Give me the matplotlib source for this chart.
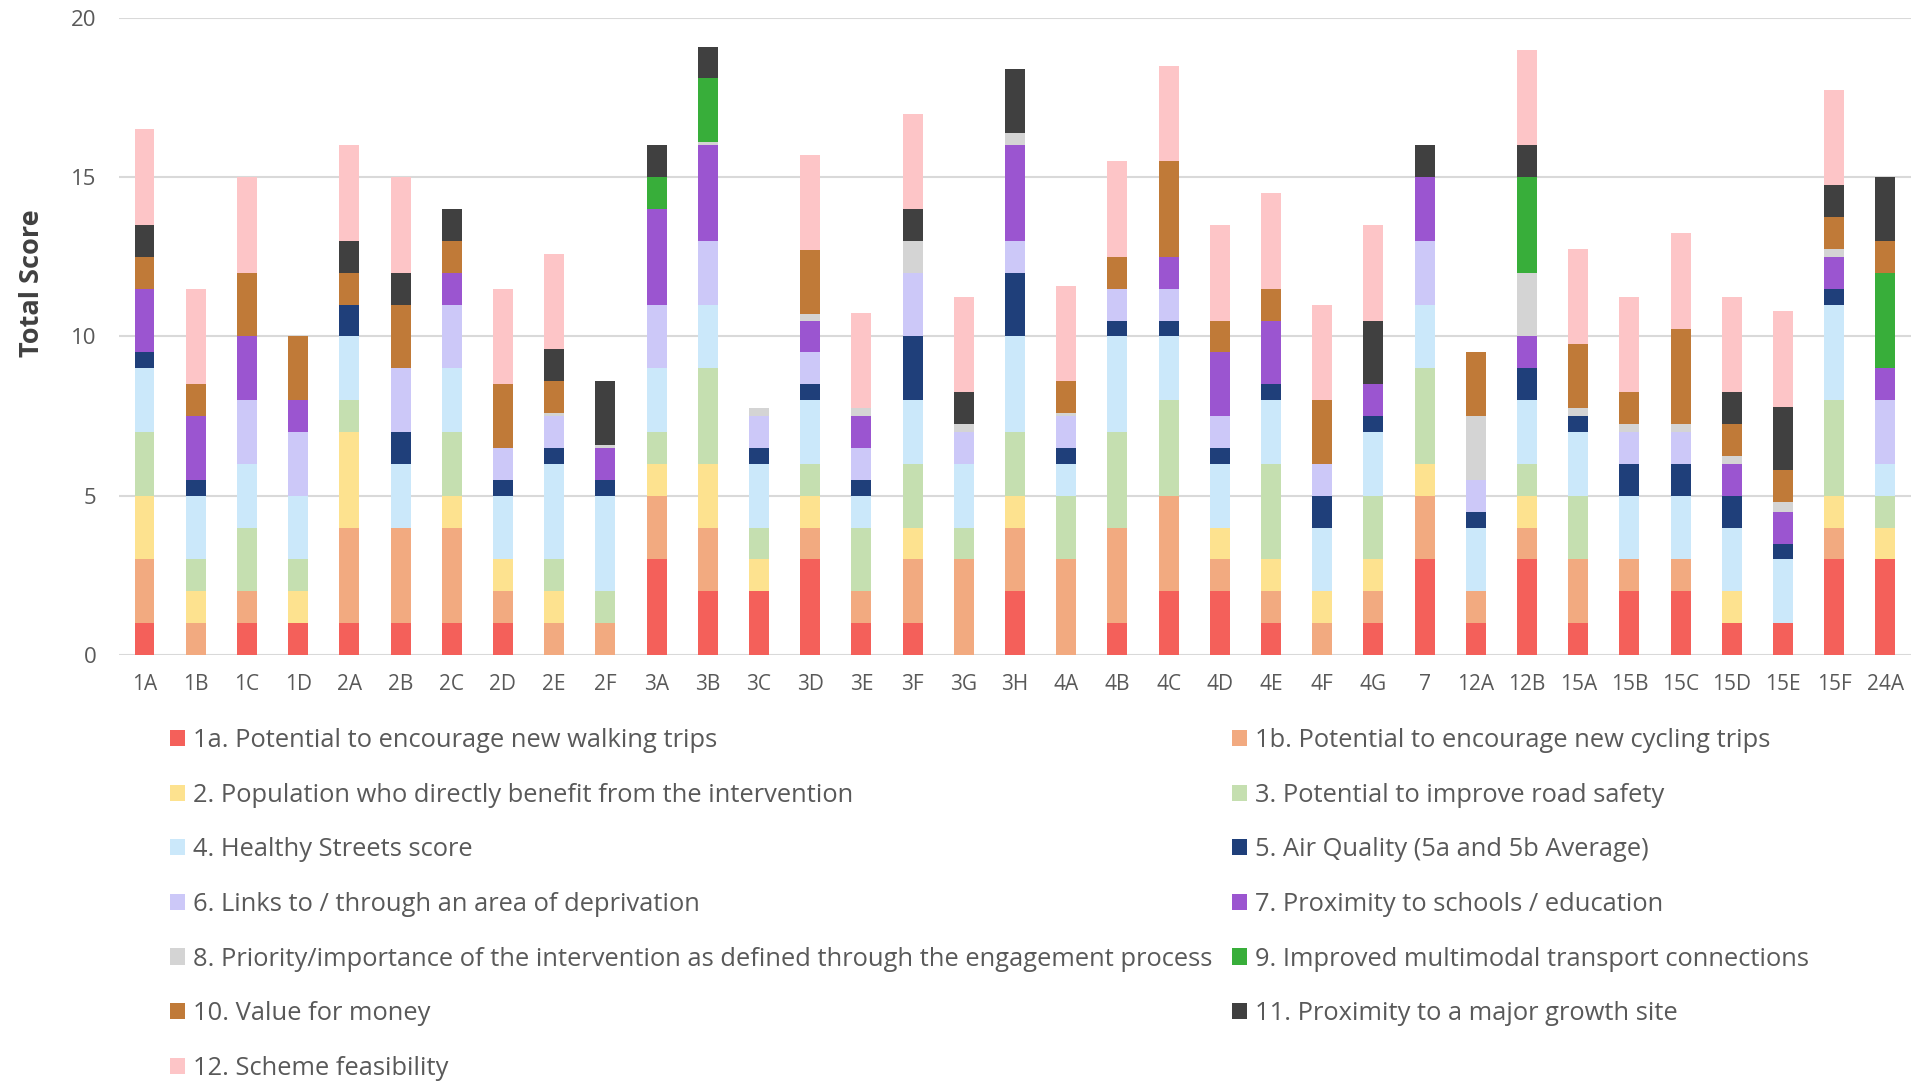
import numpy as np
import matplotlib.pyplot as plt

plt.rcParams['font.family'] = ['Open Sans', 'DejaVu Sans']

schemes = ['1A', '1B', '1C', '1D', '2A', '2B', '2C', '2D', '2E', '2F',
           '3A', '3B', '3C', '3D', '3E', '3F', '3G', '3H',
           '4A', '4B', '4C', '4D', '4E', '4F', '4G', '7',
           '12A', '12B', '15A', '15B', '15C', '15D', '15E', '15F', '24A']

criteria = ['1a. Potential to encourage new walking trips',
            '1b. Potential to encourage new cycling trips',
            '2. Population who directly benefit from the intervention',
            '3. Potential to improve road safety',
            '4. Healthy Streets score',
            '5. Air Quality (5a and 5b Average)',
            '6. Links to / through an area of deprivation',
            '7. Proximity to schools / education',
            '8. Priority/importance of the intervention as defined through the engagement process',
            '9. Improved multimodal transport connections',
            '10. Value for money',
            '11. Proximity to a major growth site',
            '12. Scheme feasibility']

colors = ['#F4605A', '#F2AA80', '#FDE28F', '#C5DFB0', '#CBE8FA', '#1F3F7A',
          '#CCC8F8', '#9B55D0', '#D4D4D4', '#38AE3A', '#C07A38', '#404040', '#FDC5C7']

# one list per criterion, values in scheme order
c1a = [1, 0, 1, 1, 1, 1, 1, 1, 0, 0, 3, 2, 2, 3, 1, 1, 0, 2,
       0, 1, 2, 2, 1, 0, 1, 3, 1, 3, 1, 2, 2, 1, 1, 3, 3]
c1b = [2, 1, 1, 0, 3, 3, 3, 1, 1, 1, 2, 2, 0, 1, 1, 2, 3, 2,
       3, 3, 3, 1, 1, 1, 1, 2, 1, 1, 2, 1, 1, 0, 0, 1, 0]
c2 = [2, 1, 0, 1, 3, 0, 1, 1, 1, 0, 1, 2, 1, 1, 0, 1, 0, 1,
      0, 0, 0, 1, 1, 1, 1, 1, 0, 1, 0, 0, 0, 1, 0, 1, 1]
c3 = [2, 1, 2, 1, 1, 0, 2, 0, 1, 1, 1, 3, 1, 1, 2, 2, 1, 2,
      2, 3, 3, 0, 3, 0, 2, 3, 0, 1, 2, 0, 0, 0, 0, 3, 1]
c4 = [2, 2, 2, 2, 2, 2, 2, 2, 3, 3, 2, 2, 2, 2, 1, 2, 2, 3,
      1, 3, 2, 2, 2, 2, 2, 2, 2, 2, 2, 2, 2, 2, 2, 3, 1]
c5 = [0.5, 0.5, 0, 0, 1, 1, 0, 0.5, 0.5, 0.5, 0, 0, 0.5, 0.5, 0.5, 2, 0, 2,
      0.5, 0.5, 0.5, 0.5, 0.5, 1, 0.5, 0, 0.5, 1, 0.5, 1, 1, 1, 0.5, 0.5, 0]
c6 = [0, 0, 2, 2, 0, 2, 2, 1, 1, 0, 2, 2, 1, 1, 1, 2, 1, 1,
      1, 1, 1, 1, 0, 1, 0, 2, 1, 0, 0, 1, 1, 0, 0, 0, 2]
c7 = [2, 2, 2, 1, 0, 0, 1, 0, 0, 1, 3, 3, 0, 1, 1, 0, 0, 3,
      0, 0, 1, 2, 2, 0, 1, 2, 0, 1, 0, 0, 0, 1, 1, 1, 1]
c8 = [0, 0, 0, 0, 0, 0, 0, 0, 0.1, 0.1, 0, 0.1, 0.25, 0.2, 0.25, 1, 0.25, 0.4,
      0.1, 0, 0, 0, 0, 0, 0, 0, 2, 2, 0.25, 0.25, 0.25, 0.25, 0.3, 0.25, 0]
c9 = [0, 0, 0, 0, 0, 0, 0, 0, 0, 0, 1, 2, 0, 0, 0, 0, 0, 0,
      0, 0, 0, 0, 0, 0, 0, 0, 0, 3, 0, 0, 0, 0, 0, 0, 3]
c10 = [1, 1, 2, 2, 1, 2, 1, 2, 1, 0, 0, 0, 0, 2, 0, 0, 0, 0,
       1, 1, 3, 1, 1, 2, 0, 0, 2, 0, 2, 1, 3, 1, 1, 1, 1]
c11 = [1, 0, 0, 0, 1, 1, 1, 0, 1, 2, 1, 1, 0, 0, 0, 1, 1, 2,
       0, 0, 0, 0, 0, 0, 2, 1, 0, 1, 0, 0, 0, 1, 2, 1, 2]
c12 = [3, 3, 3, 0, 3, 3, 0, 3, 3, 0, 0, 0, 0, 3, 3, 3, 3, 0,
       3, 3, 3, 3, 3, 3, 3, 0, 0, 3, 3, 3, 3, 3, 3, 3, 0]

series = [c1a, c1b, c2, c3, c4, c5, c6, c7, c8, c9, c10, c11, c12]

fig = plt.figure(figsize=(19.21, 10.83), dpi=100)
ax = fig.add_axes([0.0619, 0.3952, 0.9329, 0.5882])

x = np.arange(len(schemes))
bottom = np.zeros(len(schemes))
handles = []
for vals, col, lab in zip(series, colors, criteria):
    vals = np.array(vals, dtype=float)
    b = ax.bar(x, vals, 0.39, bottom=bottom, color=col, label=lab, zorder=3)
    handles.append(b)
    bottom += vals

ax.set_xlim(-0.5, len(schemes) - 0.5)
ax.set_ylim(0, 20)
ax.set_yticks([0, 5, 10, 15, 20])
ax.set_xticks(x)
ax.set_xticklabels(schemes)
ax.grid(axis='y', color='#D9D9D9', linewidth=1.5, zorder=0)
for s in ax.spines.values():
    s.set_visible(False)
ax.tick_params(axis='both', length=0, labelcolor='#595959')
ax.tick_params(axis='y', labelsize=16, pad=16)
ax.tick_params(axis='x', labelsize=15, pad=14)

ax.set_ylabel('Total Score', fontsize=19.5, fontweight='bold', color='#404040')
ax.yaxis.set_label_coords(-0.041, 0.584)

# legend filled row by row: reorder for column-wise layout
order = list(range(0, 13, 2)) + list(range(1, 13, 2))
leg = fig.legend([handles[i] for i in order], [criteria[i] for i in order],
                 ncol=2, loc='upper left', bbox_to_anchor=(170 / 1921, 1 - 728 / 1083),
                 frameon=False, fontsize=18.4, labelcolor='#595959',
                 handlelength=0.6, handleheight=0.6, handletextpad=0.3,
                 labelspacing=1.16, columnspacing=0.75, borderpad=0, borderaxespad=0)

plt.savefig('out.png', dpi=100)
